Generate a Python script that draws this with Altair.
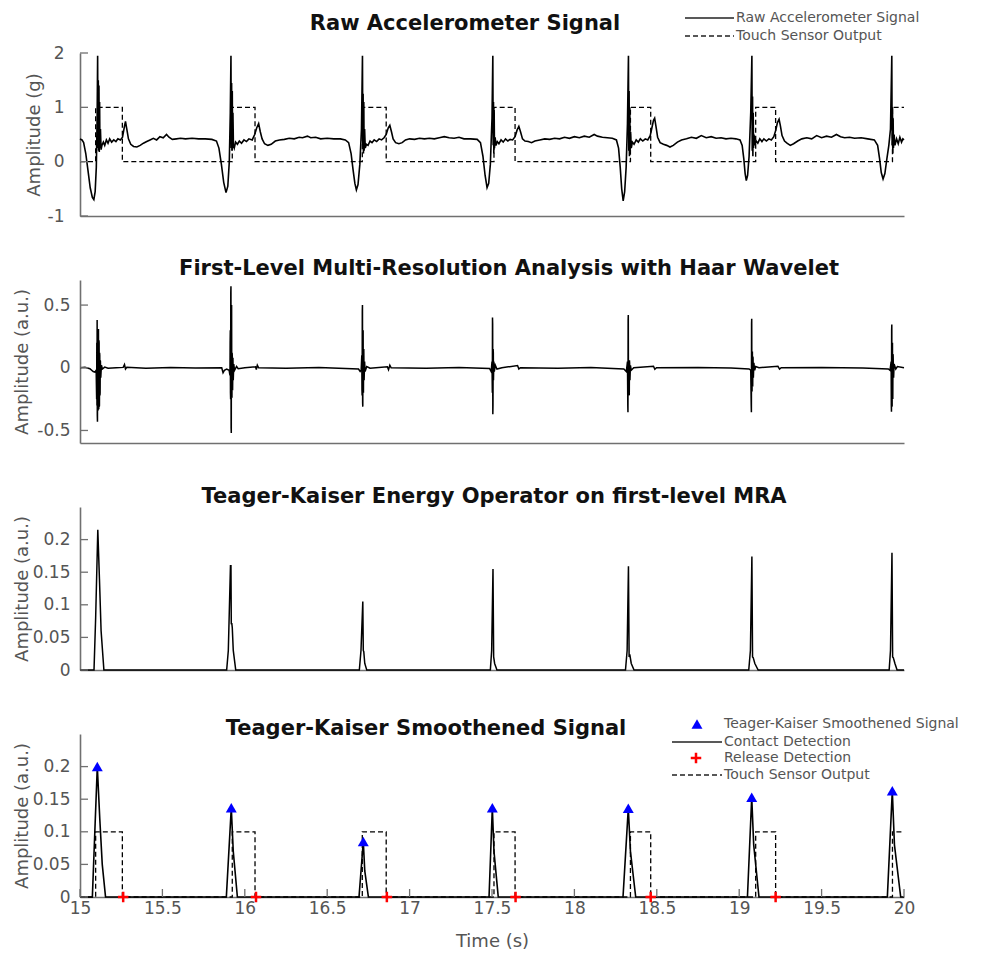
import altair as alt
import pandas as pd

W, H = 824, 163

# ---------------- text ----------------
panel_titles = [
    "Raw Accelerometer Signal",
    "First-Level Multi-Resolution Analysis with Haar Wavelet",
    "Teager-Kaiser Energy Operator on first-level MRA",
    "Teager-Kaiser Smoothened Signal",
]
y_titles = ["Amplitude (g)", "Amplitude (a.u.)", "Amplitude (a.u.)", "Amplitude (a.u.)"]
x_title = "Time (s)"
legend1_labels = ["Raw Accelerometer Signal", "Touch Sensor Output"]
legend4_labels = ["Teager-Kaiser Smoothened Signal", "Contact Detection",
                  "Release Detection", "Touch Sensor Output"]

# ---------------- ticks ----------------
x_ticks = [15, 15.5, 16, 16.5, 17, 17.5, 18, 18.5, 19, 19.5, 20]
y_ticks_raw = [-1, 0, 1, 2]
y_ticks_mra = [-0.5, 0, 0.5]
y_ticks_tk = [0, 0.05, 0.1, 0.15, 0.2]
y_domain_raw = [-1, 2]
y_domain_mra = [-0.6, 0.7]
y_domain_tk = [0, 0.25]

# ---------------- data ----------------
raw_signal = [
    (15.000, 0.42), (15.012, 0.40), (15.022, 0.35), (15.035, 0.15), (15.048, -0.15),
    (15.062, -0.48), (15.075, -0.66), (15.084, -0.70), (15.092, -0.55), (15.099, -0.10),
    (15.104, 0.80), (15.107, 1.95), (15.109, 0.25), (15.111, 1.50), (15.113, 0.20),
    (15.115, 1.40), (15.117, 0.18), (15.119, 1.10), (15.121, 0.25), (15.124, 0.60),
    (15.128, 0.22), (15.133, 0.30), (15.142, 0.36), (15.150, 0.30), (15.160, 0.40),
    (15.170, 0.34), (15.180, 0.42), (15.192, 0.36), (15.205, 0.40), (15.218, 0.37),
    (15.230, 0.42), (15.245, 0.40), (15.258, 0.45), (15.268, 0.62), (15.276, 0.74),
    (15.284, 0.60), (15.294, 0.42), (15.308, 0.32), (15.325, 0.28), (15.345, 0.27),
    (15.365, 0.30), (15.385, 0.34), (15.405, 0.37), (15.425, 0.40), (15.445, 0.43),
    (15.465, 0.40), (15.485, 0.46), (15.505, 0.44), (15.525, 0.50), (15.540, 0.45),
    (15.560, 0.41), (15.585, 0.42), (15.610, 0.43), (15.640, 0.42), (15.680, 0.43),
    (15.720, 0.42), (15.760, 0.42), (15.800, 0.41), (15.828, 0.38), (15.843, 0.25),
    (15.858, -0.05), (15.872, -0.38), (15.886, -0.57), (15.897, -0.45), (15.906, 0.00),
    (15.912, 0.90), (15.916, 1.95), (15.918, 0.25), (15.920, 1.45), (15.922, 0.20),
    (15.924, 1.30), (15.926, 0.25), (15.928, 0.90), (15.931, 0.30), (15.936, 0.25),
    (15.944, 0.36), (15.955, 0.32), (15.967, 0.38), (15.980, 0.34), (15.995, 0.40),
    (16.010, 0.37), (16.025, 0.42), (16.045, 0.40), (16.060, 0.50), (16.072, 0.62),
    (16.084, 0.70), (16.094, 0.55), (16.105, 0.42), (16.120, 0.33), (16.140, 0.30),
    (16.160, 0.32), (16.185, 0.38), (16.210, 0.40), (16.240, 0.41), (16.270, 0.43),
    (16.300, 0.42), (16.330, 0.45), (16.350, 0.44), (16.380, 0.47), (16.400, 0.44),
    (16.430, 0.45), (16.460, 0.42), (16.500, 0.43), (16.540, 0.42), (16.580, 0.42),
    (16.610, 0.40), (16.630, 0.35), (16.645, 0.15), (16.657, -0.15), (16.668, -0.40),
    (16.677, -0.52), (16.687, -0.42), (16.698, -0.05), (16.708, 0.60), (16.714, 1.95),
    (16.716, 0.30), (16.718, 1.25), (16.720, 0.15), (16.722, 1.10), (16.724, 0.20),
    (16.727, 0.60), (16.731, 0.25), (16.738, 0.32), (16.748, 0.30), (16.760, 0.38),
    (16.772, 0.35), (16.785, 0.40), (16.800, 0.37), (16.815, 0.42), (16.830, 0.40),
    (16.845, 0.44), (16.858, 0.50), (16.870, 0.62), (16.880, 0.67), (16.890, 0.55),
    (16.900, 0.42), (16.915, 0.35), (16.935, 0.33), (16.955, 0.35), (16.975, 0.40),
    (17.000, 0.42), (17.030, 0.41), (17.060, 0.43), (17.090, 0.42), (17.120, 0.43),
    (17.150, 0.42), (17.180, 0.44), (17.210, 0.46), (17.240, 0.44), (17.270, 0.43),
    (17.300, 0.45), (17.330, 0.42), (17.370, 0.42), (17.410, 0.41), (17.430, 0.35),
    (17.445, 0.10), (17.458, -0.25), (17.470, -0.48), (17.480, -0.40), (17.490, -0.05),
    (17.500, 0.80), (17.505, 1.95), (17.507, 0.30), (17.509, 1.10), (17.511, 0.15),
    (17.513, 0.95), (17.515, 0.25), (17.519, 0.45), (17.524, 0.30), (17.532, 0.37),
    (17.542, 0.33), (17.555, 0.40), (17.568, 0.36), (17.582, 0.42), (17.596, 0.38),
    (17.610, 0.41), (17.625, 0.40), (17.640, 0.46), (17.652, 0.58), (17.663, 0.65),
    (17.673, 0.55), (17.685, 0.42), (17.700, 0.38), (17.720, 0.37), (17.740, 0.35),
    (17.760, 0.38), (17.790, 0.40), (17.820, 0.42), (17.850, 0.41), (17.880, 0.43),
    (17.910, 0.42), (17.940, 0.45), (17.970, 0.43), (18.000, 0.46), (18.030, 0.44),
    (18.060, 0.47), (18.090, 0.45), (18.120, 0.50), (18.140, 0.47), (18.170, 0.45),
    (18.200, 0.44), (18.230, 0.43), (18.255, 0.40), (18.268, 0.25), (18.278, -0.10),
    (18.287, -0.50), (18.296, -0.72), (18.305, -0.55), (18.314, -0.10), (18.322, 0.70),
    (18.328, 1.95), (18.330, 0.20), (18.332, 1.30), (18.334, 0.10), (18.336, 1.00),
    (18.338, 0.20), (18.341, 0.55), (18.345, 0.25), (18.352, 0.36), (18.362, 0.32),
    (18.375, 0.40), (18.388, 0.36), (18.400, 0.42), (18.415, 0.38), (18.430, 0.42),
    (18.445, 0.40), (18.460, 0.48), (18.470, 0.62), (18.480, 0.76), (18.487, 0.80),
    (18.495, 0.65), (18.505, 0.45), (18.520, 0.35), (18.540, 0.32), (18.560, 0.30),
    (18.580, 0.27), (18.600, 0.30), (18.625, 0.36), (18.650, 0.40), (18.680, 0.42),
    (18.710, 0.45), (18.740, 0.43), (18.770, 0.48), (18.800, 0.44), (18.830, 0.46),
    (18.860, 0.43), (18.890, 0.44), (18.920, 0.42), (18.950, 0.43), (18.980, 0.42),
    (19.005, 0.40), (19.018, 0.30), (19.028, 0.05), (19.036, -0.22), (19.043, -0.35),
    (19.051, -0.25), (19.060, 0.10), (19.070, 0.90), (19.077, 1.95), (19.079, 0.20),
    (19.081, 1.20), (19.083, 0.10), (19.085, 0.90), (19.087, 0.25), (19.090, 0.50),
    (19.095, 0.30), (19.103, 0.38), (19.113, 0.34), (19.125, 0.42), (19.138, 0.37),
    (19.150, 0.42), (19.165, 0.38), (19.180, 0.42), (19.195, 0.40), (19.210, 0.46),
    (19.222, 0.58), (19.232, 0.72), (19.242, 0.78), (19.250, 0.66), (19.260, 0.48),
    (19.275, 0.38), (19.290, 0.34), (19.310, 0.30), (19.330, 0.33), (19.355, 0.38),
    (19.380, 0.42), (19.410, 0.44), (19.440, 0.42), (19.470, 0.48), (19.500, 0.44),
    (19.530, 0.47), (19.560, 0.45), (19.590, 0.50), (19.615, 0.46), (19.640, 0.44),
    (19.670, 0.45), (19.700, 0.43), (19.740, 0.44), (19.780, 0.42), (19.820, 0.40),
    (19.840, 0.30), (19.852, 0.05), (19.862, -0.20), (19.873, -0.32), (19.884, -0.22),
    (19.896, 0.05), (19.908, 0.30), (19.918, 0.60), (19.926, 1.95), (19.928, 0.30),
    (19.930, 1.00), (19.932, 0.15), (19.934, 0.80), (19.936, 0.25), (19.940, 0.50),
    (19.945, 0.30), (19.955, 0.42), (19.965, 0.33), (19.975, 0.45), (19.985, 0.36),
    (19.993, 0.42), (20.000, 0.40),
]

touch_times = [15.0, 15.095, 15.257, 15.924, 16.062, 16.713, 16.858, 17.512, 17.640,
               18.340, 18.463, 19.100, 19.221, 19.930, 20.0]
touch_level_g = [0, 1, 0, 1, 0, 1, 0, 1, 0, 1, 0, 1, 0, 1, 1]
touch_level_au = [0, 0.1, 0, 0.1, 0, 0.1, 0, 0.1, 0, 0.1, 0, 0.1, 0, 0.1, 0.1]

mra_signal = [
    (15.000, 0.000), (15.030, 0.004), (15.060, -0.008), (15.080, -0.030), (15.090, -0.035),
    (15.098, -0.020), (15.101, -0.250), (15.102, 0.200), (15.103, -0.300), (15.104, 0.380),
    (15.105, -0.380), (15.106, -0.430), (15.107, 0.250), (15.108, 0.300), (15.109, -0.330),
    (15.110, -0.340), (15.111, 0.280), (15.112, 0.310), (15.113, -0.320), (15.114, -0.330),
    (15.115, 0.220), (15.116, 0.200), (15.117, -0.310), (15.118, -0.300), (15.119, 0.120),
    (15.120, 0.100), (15.121, -0.220), (15.122, -0.200), (15.123, 0.060), (15.124, 0.050),
    (15.126, -0.080), (15.130, 0.020), (15.136, -0.010), (15.150, 0.005), (15.170, -0.004),
    (15.220, 0.000), (15.262, 0.003), (15.270, 0.025), (15.276, -0.010), (15.284, 0.004),
    (15.400, -0.003), (15.550, 0.002), (15.700, -0.002), (15.860, 0.000), (15.868, -0.040),
    (15.876, -0.020), (15.890, -0.010), (15.905, -0.020), (15.910, -0.060), (15.911, 0.200),
    (15.912, 0.300), (15.913, -0.200), (15.914, -0.250), (15.915, 0.600), (15.916, 0.650),
    (15.917, -0.480), (15.918, -0.520), (15.919, 0.460), (15.920, 0.500), (15.921, -0.220),
    (15.922, -0.240), (15.923, 0.120), (15.924, 0.100), (15.925, -0.170), (15.926, -0.180),
    (15.928, 0.080), (15.930, -0.100), (15.933, 0.030), (15.938, -0.020), (15.950, 0.010),
    (15.960, -0.008), (16.000, 0.000), (16.065, 0.008), (16.070, -0.015), (16.076, 0.020),
    (16.084, 0.000), (16.250, -0.003), (16.450, 0.002), (16.690, -0.010), (16.700, -0.030),
    (16.706, -0.020), (16.710, 0.100), (16.711, -0.180), (16.712, -0.220), (16.713, 0.450),
    (16.714, 0.500), (16.715, -0.280), (16.716, -0.310), (16.717, 0.280), (16.718, 0.300),
    (16.719, -0.190), (16.720, -0.200), (16.721, 0.140), (16.722, 0.150), (16.724, -0.100),
    (16.727, 0.050), (16.730, -0.030), (16.740, 0.010), (16.760, -0.004), (16.865, 0.008),
    (16.872, -0.015), (16.880, 0.020), (16.888, 0.000), (17.100, -0.003), (17.300, 0.002),
    (17.485, -0.005), (17.495, -0.030), (17.500, 0.050), (17.502, -0.200), (17.503, 0.400),
    (17.504, 0.350), (17.505, -0.370), (17.506, -0.300), (17.507, 0.150), (17.508, 0.120),
    (17.509, -0.100), (17.511, 0.050), (17.514, -0.030), (17.520, 0.020), (17.530, -0.010),
    (17.560, 0.000), (17.655, 0.018), (17.663, -0.010), (17.672, 0.000), (17.900, -0.003),
    (18.100, 0.002), (18.300, -0.010), (18.315, -0.030), (18.322, 0.050), (18.324, -0.300),
    (18.325, -0.355), (18.326, 0.380), (18.327, 0.420), (18.328, -0.180), (18.329, -0.200),
    (18.330, 0.060), (18.331, 0.050), (18.332, -0.210), (18.333, -0.220), (18.334, 0.060),
    (18.335, 0.040), (18.337, -0.100), (18.340, 0.020), (18.345, -0.020), (18.360, 0.000),
    (18.480, 0.012), (18.488, -0.012), (18.498, 0.000), (18.750, 0.003), (18.950, -0.002),
    (19.060, -0.010), (19.070, -0.020), (19.073, -0.300), (19.074, -0.355), (19.075, 0.350),
    (19.076, 0.390), (19.077, -0.170), (19.078, -0.190), (19.079, 0.120), (19.080, 0.130),
    (19.081, -0.140), (19.082, -0.150), (19.083, 0.090), (19.084, 0.080), (19.086, -0.080),
    (19.089, 0.040), (19.094, -0.020), (19.100, 0.010), (19.120, 0.000), (19.235, 0.012),
    (19.245, -0.010), (19.255, 0.000), (19.500, 0.003), (19.750, -0.002), (19.905, -0.010),
    (19.915, -0.020), (19.922, 0.050), (19.923, -0.300), (19.924, -0.350), (19.925, 0.300),
    (19.926, 0.345), (19.927, -0.280), (19.928, -0.310), (19.929, 0.180), (19.930, 0.200),
    (19.931, -0.230), (19.932, -0.250), (19.933, 0.110), (19.934, 0.100), (19.937, -0.080),
    (19.940, 0.030), (19.950, -0.010), (19.960, 0.010), (20.000, 0.000),
]

tkeo_signal = [
    (15.000, 0.0), (15.085, 0.0), (15.095, 0.08), (15.108, 0.215), (15.118, 0.14),
    (15.128, 0.06), (15.145, 0.0), (15.890, 0.0), (15.900, 0.03), (15.913, 0.16),
    (15.916, 0.16), (15.918, 0.07), (15.921, 0.072), (15.924, 0.065), (15.930, 0.03),
    (15.945, 0.0), (16.695, 0.0), (16.705, 0.03), (16.716, 0.105), (16.719, 0.03),
    (16.722, 0.028), (16.728, 0.01), (16.740, 0.0), (17.490, 0.0), (17.498, 0.03),
    (17.506, 0.155), (17.510, 0.02), (17.516, 0.01), (17.530, 0.0), (18.310, 0.0),
    (18.320, 0.03), (18.328, 0.159), (18.332, 0.02), (18.336, 0.024), (18.345, 0.01),
    (18.362, 0.0), (19.058, 0.0), (19.068, 0.03), (19.077, 0.174), (19.081, 0.02),
    (19.085, 0.019), (19.095, 0.01), (19.115, 0.0), (19.910, 0.0), (19.918, 0.03),
    (19.927, 0.18), (19.931, 0.02), (19.935, 0.019), (19.945, 0.01), (19.958, 0.0),
    (20.000, 0.0),
]

smooth_signal = [
    (15.000, 0.0), (15.075, 0.0), (15.090, 0.10), (15.105, 0.200), (15.120, 0.12),
    (15.135, 0.05), (15.155, 0.0), (15.888, 0.0), (15.918, 0.137), (15.930, 0.07),
    (15.955, 0.0), (16.693, 0.0), (16.719, 0.085), (16.728, 0.04), (16.750, 0.0),
    (17.482, 0.0), (17.502, 0.137), (17.512, 0.07), (17.538, 0.0), (18.295, 0.0),
    (18.327, 0.136), (18.340, 0.07), (18.372, 0.0), (19.050, 0.0), (19.076, 0.153),
    (19.088, 0.08), (19.120, 0.0), (19.899, 0.0), (19.929, 0.163), (19.942, 0.08),
    (19.980, 0.0), (20.000, 0.0),
]

peak_times = [15.105, 15.918, 16.719, 17.502, 18.327, 19.076, 19.929]
peak_values = [0.200, 0.137, 0.085, 0.137, 0.136, 0.153, 0.163]
release_times = [15.262, 16.068, 16.862, 17.643, 18.463, 19.221]
release_values = [0, 0, 0, 0, 0, 0]

# ---------------- styling ----------------
FONT = "DejaVu Sans"
AX_GRAY = "#707070"
TXT_GRAY = "#555555"
x_scale = alt.Scale(domain=[15, 20], nice=False, zero=False)


def pts(pairs):
    return pd.DataFrame({"t": [p[0] for p in pairs], "v": [p[1] for p in pairs]})


def x_enc(bottom):
    if bottom:
        axis = alt.Axis(values=x_ticks, labelExpr="'' + datum.value", title=x_title,
                        ticks=False, tickSize=0, grid=False, domainColor=AX_GRAY,
                        domainWidth=1.6, labelColor=TXT_GRAY, labelFont=FONT,
                        labelFontSize=17, labelPadding=3, labelFlush=False,
                        titleFont=FONT, titleFontSize=18, titleFontWeight="normal",
                        titleColor=TXT_GRAY, titleY=44, titleBaseline="middle")
    else:
        axis = alt.Axis(labels=False, ticks=False, tickSize=0, title=None, grid=False,
                        domainColor=AX_GRAY, domainWidth=1.6)
    return alt.X("t:Q", scale=x_scale, axis=axis)


def y_enc(domain, ticks, title, title_x, pad):
    axis = alt.Axis(values=ticks, labelExpr="'' + datum.value", title=title,
                    ticks=False, tickSize=0, grid=False, domainColor=AX_GRAY,
                    domainWidth=1.6, labelColor=TXT_GRAY, labelFont=FONT,
                    labelFontSize=17, labelPadding=pad, labelFlush=False,
                    titleFont=FONT, titleFontSize=18, titleFontWeight="normal",
                    titleColor=TXT_GRAY, titleX=title_x, titleBaseline="middle")
    return alt.Y("v:Q", scale=alt.Scale(domain=domain, nice=False, zero=False), axis=axis)


def panel(lines, domain, ticks, ytitle, title_x, pad, title, title_dx, title_y, bottom, extra):
    xe = x_enc(bottom)
    ye = y_enc(domain, ticks, ytitle, title_x, pad)
    layers = []
    for df, kw in lines:
        layers.append(alt.Chart(df).mark_line(**kw).encode(x=xe, y=ye))
    # inward y ticks
    layers.append(alt.Chart(pd.DataFrame({"v": ticks})).mark_rule(
        color=AX_GRAY, strokeWidth=1.3).encode(y=ye, x=alt.value(0), x2=alt.value(8)))
    if bottom:
        layers.append(alt.Chart(pd.DataFrame({"t": x_ticks})).mark_rule(
            color=AX_GRAY, strokeWidth=1.3).encode(x=xe, y=alt.value(H), y2=alt.value(H - 8)))
    layers.append(alt.Chart(pd.DataFrame({"label": [title]})).mark_text(
        font=FONT, fontSize=21, fontWeight="bold", color="#111111", align="center",
        baseline="alphabetic").encode(x=alt.value(title_dx), y=alt.value(title_y), text="label:N"))
    layers.extend(extra(xe, ye))
    return alt.layer(*layers).properties(width=W, height=H)


def legend_text(label, y, x=656):
    return alt.Chart(pd.DataFrame({"label": [label]})).mark_text(
        font=FONT, fontSize=14, color=TXT_GRAY, align="left", baseline="middle").encode(
        x=alt.value(x), y=alt.value(y), text="label:N")


def legend_rule(x1, x2, y, dash=None):
    kw = dict(color="#222222", strokeWidth=1.5)
    if dash:
        kw["strokeDash"] = dash
    return alt.Chart(pd.DataFrame({"k": [0]})).mark_rule(**kw).encode(
        x=alt.value(x1), x2=alt.value(x2), y=alt.value(y))


DASH = [5, 3]
touch_g = pd.DataFrame({"t": touch_times, "v": touch_level_g})
touch_au = pd.DataFrame({"t": touch_times, "v": touch_level_au})


def extra1(xe, ye):
    return [
        legend_rule(605, 654, -35), legend_text(legend1_labels[0], -35),
        legend_rule(605, 654, -17, DASH), legend_text(legend1_labels[1], -17),
    ]


def extra_none(xe, ye):
    return []


PLUS = "M-1,0H1M0,-1V1"


def extra4(xe, ye):
    peaks = pd.DataFrame({"t": peak_times, "v": peak_values})
    rel = pd.DataFrame({"t": release_times, "v": release_values})
    return [
        alt.Chart(peaks).mark_point(shape="triangle-up", filled=True, color="#0000ff",
                                    size=120, opacity=1).encode(x=xe, y=ye),
        alt.Chart(rel).mark_point(shape=PLUS, filled=False, stroke="#ff0000", strokeWidth=2.5,
                                  size=110, opacity=1).encode(x=xe, y=ye),
        alt.Chart(pd.DataFrame({"k": [0]})).mark_point(
            shape="triangle-up", filled=True, color="#0000ff", size=120, opacity=1).encode(
            x=alt.value(617), y=alt.value(-10)),
        legend_text(legend4_labels[0], -10, 644),
        legend_rule(592, 642, 8), legend_text(legend4_labels[1], 8, 644),
        alt.Chart(pd.DataFrame({"k": [0]})).mark_point(
            shape=PLUS, filled=False, stroke="#ff0000", strokeWidth=2.5, size=110, opacity=1).encode(
            x=alt.value(616), y=alt.value(24)),
        legend_text(legend4_labels[2], 24, 644),
        legend_rule(592, 642, 41, DASH), legend_text(legend4_labels[3], 41, 644),
    ]


solid = dict(color="#000000", strokeWidth=1.6)
dashed = dict(color="#000000", strokeWidth=1.3, strokeDash=DASH, interpolate="step-after")

p1 = panel([(pts(raw_signal), solid), (touch_g, dashed)], y_domain_raw, y_ticks_raw,
           y_titles[0], -46, 16, panel_titles[0], 385, -23, False, extra1)
p2 = panel([(pts(mra_signal), dict(color="#000000", strokeWidth=1.5))], y_domain_mra, y_ticks_mra,
           y_titles[1], -58, 10, panel_titles[1], 429, -5, False, extra_none)
p3 = panel([(pts(tkeo_signal), dict(color="#000000", strokeWidth=1.5))], y_domain_tk, y_ticks_tk,
           y_titles[2], -58, 10, panel_titles[2], 414, -4, False, extra_none)
p4 = panel([(pts(smooth_signal), dict(color="#000000", strokeWidth=1.6)), (touch_au, dashed)],
           y_domain_tk, y_ticks_tk, y_titles[3], -58, 10, panel_titles[3], 346, 1, True, extra4)

chart = alt.vconcat(p1, p2, p3, p4, spacing=64, bounds="flush").properties(
    padding={"left": 4, "top": 3, "right": 5, "bottom": 5},
    background="white",
).configure_view(stroke=None)

chart.save("out.html", embed_options={"renderer": "svg", "actions": False})
